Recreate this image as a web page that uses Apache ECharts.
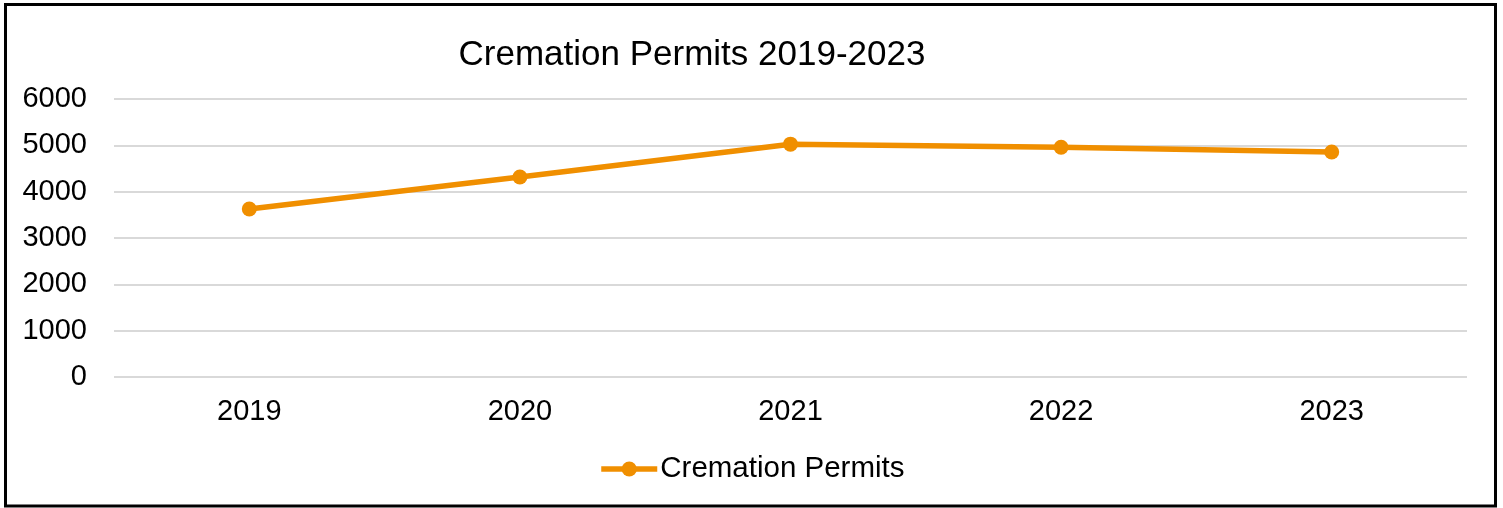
<!DOCTYPE html>
<html>
<head>
<meta charset="utf-8">
<script src="https://cdn.jsdelivr.net/npm/echarts@6/dist/echarts.min.js"></script>
<style>
html,body{margin:0;padding:0;background:#fff;}
#c{width:1503px;height:508px;}
</style>
</head>
<body>
<div id="c"></div>
<script>
var categories = ['2019', '2020', '2021', '2022', '2023'];
var permits = [3625, 4315, 5025, 4960, 4855];
var seriesName = 'Cremation Permits';
var titleText = 'Cremation Permits 2019-2023';

var chart = echarts.init(document.getElementById('c'), null, {renderer: 'canvas'});
var font = 'Liberation Sans, Arial, sans-serif';
chart.setOption({
  animation: false,
  backgroundColor: '#fff',
  title: {
    text: titleText,
    left: 687, top: 50, textAlign: 'center', textVerticalAlign: 'middle',
    textStyle: {fontFamily: font, fontSize: 35, fontWeight: 'normal', color: '#000'}
  },
  grid: {left: 114, right: 36, top: 99, bottom: 131, containLabel: false},
  xAxis: {
    type: 'category',
    data: categories,
    boundaryGap: true,
    axisLine: {show: false},
    axisTick: {show: false},
    axisLabel: {fontFamily: font, fontSize: 29, color: '#000', margin: 20}
  },
  yAxis: {
    type: 'value',
    min: 0, max: 6000, interval: 1000,
    axisLine: {show: false},
    axisTick: {show: false},
    axisLabel: {fontFamily: font, fontSize: 29, color: '#000', margin: 27,
      formatter: function (v) { return String(v); }},
    splitLine: {lineStyle: {color: '#d9d9d9', width: 2}}
  },
  legend: {
    data: [seriesName],
    left: 'center', top: 449,
    itemWidth: 56, itemHeight: 19, itemGap: 4,
    lineStyle: {width: 5.5},
    textStyle: {fontFamily: font, fontSize: 29.5, color: '#000', padding: [0,0,0,-2]}
  },
  series: [{
    name: seriesName,
    type: 'line',
    data: permits,
    symbol: 'circle',
    symbolSize: 15,
    lineStyle: {color: '#F08F00', width: 5.5},
    itemStyle: {color: '#F08F00'}
  }],
  graphic: [{
    type: 'rect',
    shape: {x: 5.5, y: 4.5, width: 1490, height: 501.5},
    style: {fill: 'none', stroke: '#000', lineWidth: 3},
    silent: true
  }]
});
</script>
</body>
</html>
